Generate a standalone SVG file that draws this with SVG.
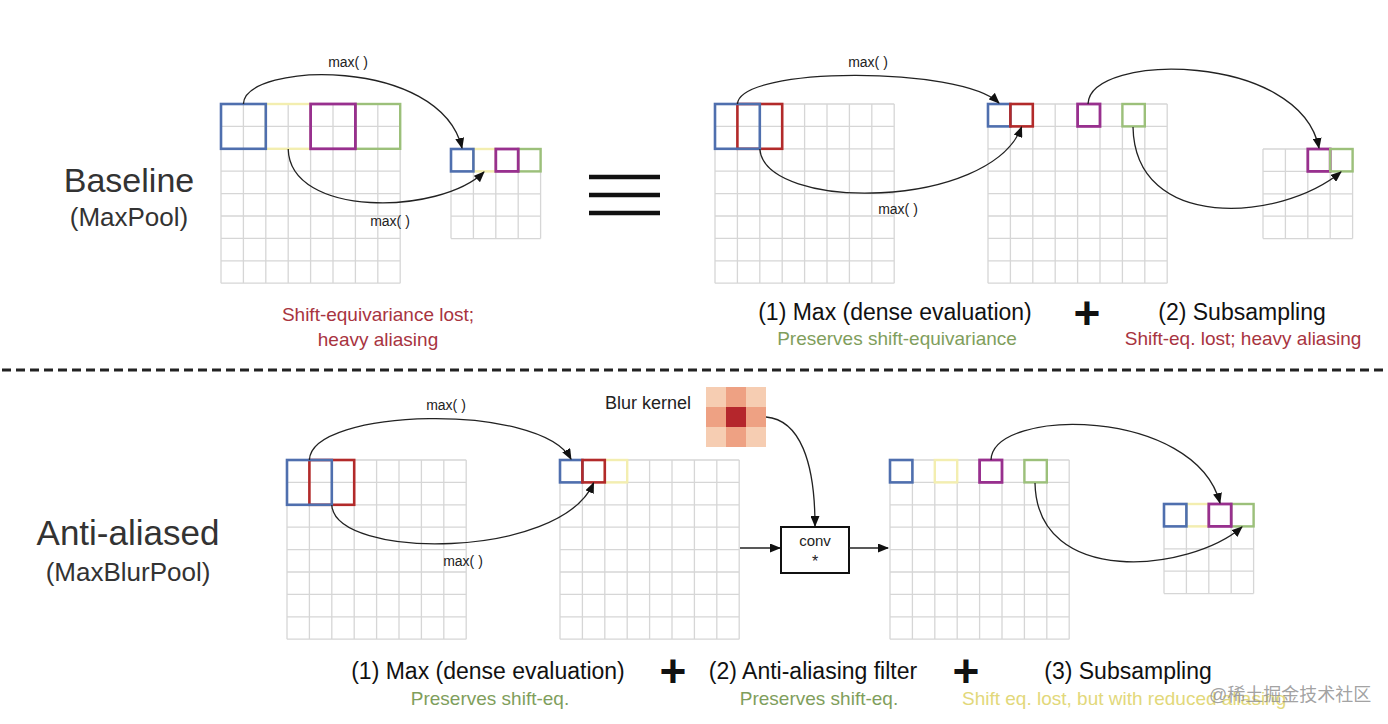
<svg xmlns="http://www.w3.org/2000/svg" xmlns:xlink="http://www.w3.org/1999/xlink" width="1388" height="724" viewBox="0 0 1388 724">
<style>
.grid{fill:none;stroke:#d6d6d6;stroke-width:1.3}
.b{fill:none;stroke:#4f6fae;stroke-width:2.6}
.r{fill:none;stroke:#b22a2a;stroke-width:2.6}
.m{fill:none;stroke:#98308e;stroke-width:2.8}
.g{fill:none;stroke:#9cc07a;stroke-width:2.4}
.y{fill:none;stroke:#f3eeb0;stroke-width:2.4}
.arr{fill:none;stroke:#222;stroke-width:1.3;marker-end:url(#ah)}
.t{font-family:"Liberation Sans",Arial,sans-serif}
.mx{font-size:14px;fill:#222;text-anchor:middle}
.title{fill:#333;text-anchor:middle}
.lbl{font-size:23px;fill:#111;text-anchor:middle}
.sub{font-size:19px;text-anchor:middle}
.subl{font-size:19px;text-anchor:start}
.red{fill:#a8343f}
.grn{fill:#7f9e5c}
.ylw{fill:#e2d87a}
.plus{font-size:46px;font-weight:bold;fill:#111;text-anchor:middle}
</style>
<defs>
<marker id="ah" markerUnits="userSpaceOnUse" markerWidth="11" markerHeight="9" refX="10" refY="4.5" orient="auto">
<path d="M0,0L11,4.5L0,9z" fill="#111"/>
</marker>
<path id="g8" class="grid" d="M0,0v179.2M22.4,0v179.2M44.8,0v179.2M67.2,0v179.2M89.6,0v179.2M112,0v179.2M134.4,0v179.2M156.8,0v179.2M179.2,0v179.2M0,0h179.2M0,22.4h179.2M0,44.8h179.2M0,67.2h179.2M0,89.6h179.2M0,112h179.2M0,134.4h179.2M0,156.8h179.2M0,179.2h179.2"/>
<path id="g4" class="grid" d="M0,0v89.6M22.4,0v89.6M44.8,0v89.6M67.2,0v89.6M89.6,0v89.6M0,0h89.6M0,22.4h89.6M0,44.8h89.6M0,67.2h89.6M0,89.6h89.6"/>
</defs>
<rect width="1388" height="724" fill="#ffffff"/>

<g id="title-baseline" class="t">
<text class="title" x="129" y="192" font-size="34">Baseline</text>
<text class="title" x="129" y="226" font-size="26">(MaxPool)</text>
</g>

<g id="grid-top-input">
<use xlink:href="#g8" x="221" y="104"/>
<rect class="y" x="265.8" y="104" width="44.8" height="44.8"/>
<rect class="g" x="355.4" y="104" width="44.8" height="44.8"/>
<rect class="b" x="221" y="104" width="44.8" height="44.8"/>
<rect class="m" x="310.6" y="104" width="44.8" height="44.8"/>
</g>

<g id="grid-top-output">
<use xlink:href="#g4" x="451" y="149"/>
<rect class="y" x="473.4" y="149" width="22.4" height="22.4"/>
<rect class="g" x="518.2" y="149" width="22.4" height="22.4"/>
<rect class="b" x="451" y="149" width="22.4" height="22.4"/>
<rect class="m" x="495.8" y="149" width="22.4" height="22.4"/>
</g>

<g id="equiv">
<path d="M589,177h71M589,195h71M589,213h71" stroke="#111" stroke-width="4.5" fill="none"/>
</g>

<g id="grid-top-dense-in">
<use xlink:href="#g8" x="715" y="104"/>
<rect class="r" x="737.4" y="104" width="44.8" height="44.8"/>
<rect class="b" x="715" y="104" width="44.8" height="44.8"/>
</g>

<g id="grid-top-dense-out">
<use xlink:href="#g8" x="988" y="104"/>
<rect class="b" x="988" y="104" width="22.4" height="22.4"/>
<rect class="r" x="1010.4" y="104" width="22.4" height="22.4"/>
<rect class="m" x="1077.6" y="104" width="22.4" height="22.4"/>
<rect class="g" x="1122.4" y="104" width="22.4" height="22.4"/>
</g>

<g id="grid-top-sub">
<use xlink:href="#g4" x="1263" y="149"/>
<rect class="m" x="1307.8" y="149" width="22.4" height="22.4"/>
<rect class="g" x="1330.2" y="149" width="22.4" height="22.4"/>
</g>

<g id="labels-top" class="t">
<text class="sub red" x="378" y="321">Shift-equivariance lost;</text>
<text class="sub red" x="378" y="346">heavy aliasing</text>
<text class="lbl" x="895" y="320">(1) Max (dense evaluation)</text>
<text class="sub grn" x="897" y="345">Preserves shift-equivariance</text>
<text class="plus" x="1087" y="329">+</text>
<text class="lbl" x="1242" y="320">(2) Subsampling</text>
<text class="sub red" x="1243" y="345">Shift-eq. lost; heavy aliasing</text>
</g>

<g id="divider">
<path d="M2,370H1386" stroke="#222" stroke-width="3" stroke-dasharray="9 5" fill="none"/>
</g>

<g id="title-antialiased" class="t">
<text class="title" x="128" y="545" font-size="35">Anti-aliased</text>
<text class="title" x="128" y="581" font-size="26">(MaxBlurPool)</text>
</g>

<g id="grid-bot-input">
<use xlink:href="#g8" x="287" y="460"/>
<rect class="r" x="309.4" y="460" width="44.8" height="44.8"/>
<rect class="b" x="287" y="460" width="44.8" height="44.8"/>
</g>

<g id="grid-bot-dense">
<use xlink:href="#g8" x="560" y="460"/>
<rect class="y" x="604.8" y="460" width="22.4" height="22.4"/>
<rect class="b" x="560" y="460" width="22.4" height="22.4"/>
<rect class="r" x="582.4" y="460" width="22.4" height="22.4"/>
</g>

<g id="blur-kernel">
<rect x="706" y="387" width="20" height="20" fill="#f6cdb2"/>
<rect x="726" y="387" width="20" height="20" fill="#eea183"/>
<rect x="746" y="387" width="20" height="20" fill="#f6cdb2"/>
<rect x="706" y="407" width="20" height="20" fill="#eea183"/>
<rect x="726" y="407" width="20" height="20" fill="#b5262c"/>
<rect x="746" y="407" width="20" height="20" fill="#eea183"/>
<rect x="706" y="427" width="20" height="20" fill="#f6cdb2"/>
<rect x="726" y="427" width="20" height="20" fill="#eea183"/>
<rect x="746" y="427" width="20" height="20" fill="#f6cdb2"/>
<text class="t" x="605" y="409" font-size="18" fill="#222">Blur kernel</text>
</g>

<g id="conv">
<rect x="781" y="527" width="68" height="46" fill="#fff" stroke="#111" stroke-width="2"/>
<text class="t" x="815" y="546" font-size="15" fill="#222" text-anchor="middle">conv</text>
<text class="t" x="815" y="567" font-size="16" fill="#222" text-anchor="middle">*</text>
</g>

<g id="grid-bot-blurred">
<use xlink:href="#g8" x="890" y="460"/>
<rect class="y" x="934.8" y="460" width="22.4" height="22.4"/>
<rect class="g" x="1024.4" y="460" width="22.4" height="22.4"/>
<rect class="b" x="890" y="460" width="22.4" height="22.4"/>
<rect class="m" x="979.6" y="460" width="22.4" height="22.4"/>
</g>

<g id="grid-bot-sub">
<use xlink:href="#g4" x="1164" y="504"/>
<rect class="y" x="1186.4" y="504" width="22.4" height="22.4"/>
<rect class="g" x="1231.2" y="504" width="22.4" height="22.4"/>
<rect class="b" x="1164" y="504" width="22.4" height="22.4"/>
<rect class="m" x="1208.8" y="504" width="22.4" height="22.4"/>
</g>

<g id="connectors">
<path class="arr" d="M243.4,104C245,62 440,56 462,148"/>
<path class="arr" d="M288.2,149C290,218 440,215 484,172"/>
<path class="arr" d="M737.4,104C740,66 960,66 999,103"/>
<path class="arr" d="M759.8,149C765,212 990,210 1021.6,127"/>
<path class="arr" d="M1088,104C1090,52 1300,52 1319,148"/>
<path class="arr" d="M1133,127C1135,232 1280,222 1341,172"/>
<path class="arr" d="M309.4,460C311,408 540,402 571,459"/>
<path class="arr" d="M331.8,505C335,560 560,560 593.6,483"/>
<path class="arr" d="M991,460C993,407 1195,407 1220,503"/>
<path class="arr" d="M1035,483C1037,588 1190,572 1242,527"/>
<path class="arr" d="M766,417C800,420 815,462 815,526"/>
<path class="arr" d="M740,548H780"/>
<path class="arr" d="M849,548H888"/>
<g class="t">
<text class="mx" x="348" y="67">max( )</text>
<text class="mx" x="390" y="226">max( )</text>
<text class="mx" x="868" y="67">max( )</text>
<text class="mx" x="898" y="214">max( )</text>
<text class="mx" x="446" y="410">max( )</text>
<text class="mx" x="463" y="566">max( )</text>
</g>
</g>

<g id="labels-bottom" class="t">
<text class="lbl" x="488" y="679">(1) Max (dense evaluation)</text>
<text class="sub grn" x="490" y="705">Preserves shift-eq.</text>
<text class="plus" x="673" y="687">+</text>
<text class="lbl" x="813" y="679">(2) Anti-aliasing filter</text>
<text class="sub grn" x="819" y="705">Preserves shift-eq.</text>
<text class="plus" x="966" y="687">+</text>
<text class="lbl" x="1128" y="679">(3) Subsampling</text>
<text class="subl ylw" x="962" y="705">Shift eq. lost, but with reduced aliasing</text>
</g>

<g id="watermark">
<text x="1209" y="701" font-size="18" fill="#8a8a8a" fill-opacity="0.8" font-family="'Liberation Sans','Noto Sans CJK SC',sans-serif">@稀土掘金技术社区</text>
</g>
</svg>
